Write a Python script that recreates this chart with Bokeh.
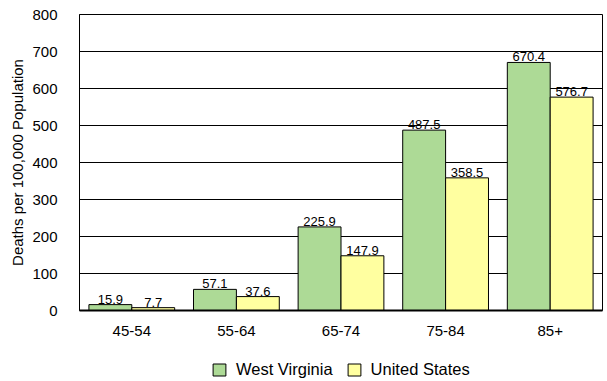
from bokeh.plotting import figure
from bokeh.models import ColumnDataSource, Range1d, FactorRange, Legend, LegendItem, LabelSet
from bokeh.layouts import column
from bokeh.transform import dodge
from bokeh.core.properties import value
from bokeh.embed import file_html
from bokeh.resources import INLINE

categories = ["45-54", "55-64", "65-74", "75-84", "85+"]
west_virginia = [15.9, 57.1, 225.9, 487.5, 670.4]
united_states = [7.7, 37.6, 147.9, 358.5, 576.7]
series_names = ["West Virginia", "United States"]
y_ticks = [0, 100, 200, 300, 400, 500, 600, 700, 800]

FONT = "Liberation Sans"
GREEN = "#ADDA96"
YELLOW = "#FFFFA0"

src = ColumnDataSource(dict(
    cat=categories,
    wv=west_virginia,
    us=united_states,
    wv_lab=[f"{v:.1f}" for v in west_virginia],
    us_lab=[f"{v:.1f}" for v in united_states],
))

p = figure(width=607, height=345, x_range=FactorRange(*categories), y_range=Range1d(0, 800),
           output_backend="svg", toolbar_location=None,
           min_border_left=79, min_border_right=5, min_border_top=14, min_border_bottom=35)

w = 0.41
p.vbar(x=dodge("cat", -w / 2, range=p.x_range), top="wv", width=w, source=src,
       fill_color=GREEN, line_color="black", line_width=1)
p.vbar(x=dodge("cat", w / 2, range=p.x_range), top="us", width=w, source=src,
       fill_color=YELLOW, line_color="black", line_width=1)

for ycol, tcol, off in [("wv", "wv_lab", -w / 2), ("us", "us_lab", w / 2)]:
    lbl = LabelSet(x=dodge("cat", off, range=p.x_range), y=ycol, text=tcol, source=src,
                   text_align="center", text_baseline="bottom", y_offset=1,
                   text_font=value(FONT), text_font_size=value("13px"), text_color="black")
    p.add_layout(lbl)

p.outline_line_color = "black"
p.outline_line_width = 1
p.xgrid.grid_line_color = None
p.ygrid.grid_line_color = "black"
p.ygrid.grid_line_width = 1
p.yaxis.ticker = y_ticks
p.yaxis.axis_label = "Deaths per 100,000 Population"
p.yaxis.axis_label_text_font = FONT
p.yaxis.axis_label_text_font_style = "normal"
p.yaxis.axis_label_text_font_size = "15px"
p.yaxis.axis_label_text_color = "black"
p.yaxis.axis_label_standoff = 3
p.yaxis.major_label_standoff = 16

for ax in (p.xaxis[0], p.yaxis[0]):
    ax.major_label_text_font = FONT
    ax.major_label_text_font_size = "15px"
    ax.major_label_text_color = "black"
    ax.major_tick_line_color = None
    ax.minor_tick_line_color = None
    ax.axis_line_color = "black"
p.xaxis.axis_line_width = 2
p.xaxis.major_label_standoff = 9

# legend strip below the chart (its frame is aligned with the chart's frame)
lf = figure(width=607, height=36, x_range=Range1d(0, 1), y_range=Range1d(0, 1),
            output_backend="svg", toolbar_location=None,
            x_axis_location=None, y_axis_location=None,
            min_border=0, min_border_left=0, min_border_right=0,
            min_border_top=0, min_border_bottom=0, outline_line_color=None)
lf.grid.visible = False
dummy = ColumnDataSource(dict(x=[0.5], top=[-10], bottom=[-5]))
g1 = lf.vbar(x="x", top="top", bottom="bottom", width=0.1, source=dummy,
             fill_color=GREEN, line_color="black")
g2 = lf.vbar(x="x", top="top", bottom="bottom", width=0.1, source=dummy,
             fill_color=YELLOW, line_color="black")
legend = Legend(items=[LegendItem(label=series_names[0], renderers=[g1]),
                       LegendItem(label=series_names[1], renderers=[g2])],
                orientation="horizontal", location=(132, 2),
                padding=0, margin=0, spacing=13, glyph_width=16, glyph_height=15,
                label_standoff=9, label_text_font=FONT, label_text_font_size="16.5px",
                label_text_color="black",
                border_line_color=None, background_fill_alpha=0)
lf.add_layout(legend, "center")

open("out.html", "w").write(file_html(column(p, lf, spacing=0), INLINE))
